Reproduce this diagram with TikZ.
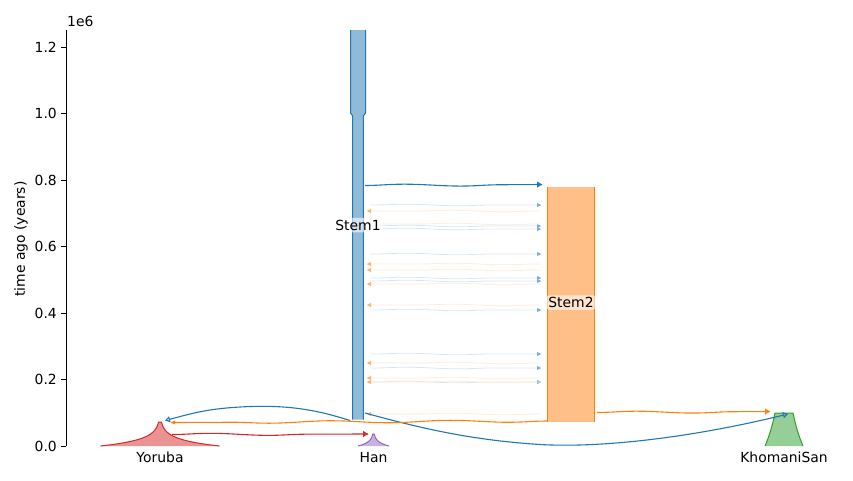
\documentclass[tikz,border=0pt]{standalone}
\usepackage{fontspec}
\setmainfont{DejaVu Sans}
\usetikzlibrary{decorations.pathmorphing,arrows.meta}
\definecolor{Cblue}{HTML}{1F77B4}
\definecolor{Cblfill}{HTML}{8FBBD9}
\definecolor{Corange}{HTML}{FF7F0E}
\definecolor{Corfill}{HTML}{FFBF86}
\definecolor{Cred}{HTML}{D62728}
\definecolor{Credfill}{HTML}{EA9393}
\definecolor{Cpurple}{HTML}{9467BD}
\definecolor{Cpufill}{HTML}{C9B3DE}
\definecolor{Cgreen}{HTML}{2CA02C}
\definecolor{Cgrfill}{HTML}{95CF95}
\begin{document}
\begin{tikzpicture}[x=1pt,y=-1pt,
  lbl/.style={inner sep=0pt, font=\fontsize{13.9}{16}\selectfont},
  ticklbl/.style={lbl, anchor=east},
  poplbl/.style={lbl, anchor=base},
  stemlbl/.style={lbl, inner sep=2pt, fill=white, fill opacity=0.6, text opacity=1, rounded corners=3pt},
  pulse/.style={line width=1.1pt, decorate, decoration={snake, amplitude=1.1pt, segment length=120pt, post length=6pt}},
  pulsetip/.style={line width=1.1pt, -{Triangle[open,length=5pt,width=6pt]}},
  mig/.style={line width=0.8pt, decorate, decoration={snake, amplitude=0.8pt, segment length=105pt, pre length=3pt, post length=4pt}},
  migtip/.style={-{Triangle[length=4pt,width=4pt]}, line width=0.6pt}
]
\useasboundingbox (0,0) rectangle (853,480);

% axis
\coordinate (axtop) at (66,30);
\coordinate (axbot) at (66,446);
\draw[line width=0.8pt] (axtop) -- (axbot);
\foreach \v/\t in {0/0.0, 1/0.2, 2/0.4, 3/0.6, 4/0.8, 5/1.0, 6/1.2} {
  \coordinate (tk\v) at (66,{446-66.5*\v});
  \draw[line width=0.8pt] (tk\v) -- ++(-4.9,0);
  \node[ticklbl] (tl\v) at (57,{446-66.5*\v}) {\t};
}
\node[lbl, anchor=base west] (expo) at (67,26) {1e6};
\node[lbl, rotate=90] (ylab) at (21,239) {time ago (years)};

% Stem1
\fill[Cblfill] (350.5,30) -- (365.5,30) -- (365.5,113) -- (363.3,116) -- (363.3,419.5) -- (352.7,419.5) -- (352.7,116) -- (350.5,113) -- cycle;
\draw[Cblue, line width=1pt] (350.5,30) -- (350.5,113) -- (352.7,116) -- (352.7,419.5);
\draw[Cblue, line width=1pt] (365.5,30) -- (365.5,113) -- (363.3,116) -- (363.3,419.5);

% Stem2
\fill[Corfill] (547,186.6) rectangle (594.5,421.8);
\draw[Corange, line width=1pt] (547,186.6) -- (547,421.8);
\draw[Corange, line width=1pt] (594.5,186.6) -- (594.5,421.8);

% Yoruba
\fill[Credfill] plot[domain=0:24, samples=40] ({160-59.5*exp(-0.153*\x)},{446-\x}) -- plot[domain=24:0, samples=40] ({160+59.5*exp(-0.153*\x)},{446-\x}) -- cycle;
\draw[Cred, line width=1pt] plot[domain=0:24, samples=40] ({160-59.5*exp(-0.153*\x)},{446-\x}) -- plot[domain=24:0, samples=40] ({160+59.5*exp(-0.153*\x)},{446-\x});

% Han
\fill[Cpufill] plot[domain=0:12, samples=30] ({373.5-15.5*exp(-0.247*\x)},{446-\x}) -- plot[domain=12:0, samples=30] ({373.5+15.5*exp(-0.247*\x)},{446-\x}) -- cycle;
\draw[Cpurple, line width=1pt] plot[domain=0:12, samples=30] ({373.5-15.5*exp(-0.247*\x)},{446-\x}) -- plot[domain=12:0, samples=30] ({373.5+15.5*exp(-0.247*\x)},{446-\x});

% KhomaniSan
\fill[Cgrfill] plot[domain=0:33, samples=30] ({784-19*exp(-0.0226*\x)},{446-\x}) -- plot[domain=33:0, samples=30] ({784+19*exp(-0.0226*\x)},{446-\x}) -- cycle;
\draw[Cgreen, line width=1pt] plot[domain=0:33, samples=30] ({784-19*exp(-0.0226*\x)},{446-\x}) -- plot[domain=33:0, samples=30] ({784+19*exp(-0.0226*\x)},{446-\x});

% migrations Stem1 -> Stem2 (blue, faint)
\foreach \y [count=\i] in {205,226,229,254,278,281,310,354,368,382} {
  \coordinate (mbA\i) at (370,\y);
  \coordinate (mbB\i) at (541,\y);
  \draw[mig, Cblue!18] (mbA\i) -- (mbB\i);
  \draw[migtip, Cblue!60] ([xshift=-2pt]mbB\i) -- (mbB\i);
}
% migrations Stem2 -> Stem1 (orange, faint)
\foreach \y [count=\i] in {211,224,264,270,284,305,363,378,382,414} {
  \coordinate (moA\i) at (540,\y);
  \coordinate (moB\i) at (367,\y);
  \draw[mig, Corange!15] (moA\i) -- (moB\i);
  \draw[migtip, Corange!60] ([xshift=2pt]moB\i) -- (moB\i);
}

% pulses
\coordinate (p1a) at (365,185.5);
\coordinate (p1b) at (542,184.5);
\draw[pulse, Cblue] (p1a) -- (p1b);
\draw[pulsetip, Cblue] ([xshift=-3pt]p1b) -- (p1b);

\coordinate (p2a) at (350,420.5);
\coordinate (p2m) at (240,407);
\coordinate (p2b) at (165,420.5);
\draw[pulsetip, Cblue] (p2a) .. controls (320,411) and (290,404) .. (p2m) .. controls (205,409) and (190,414) .. (p2b);

\coordinate (p3a) at (365,413);
\coordinate (p3m) at (540,444.5);
\coordinate (p3b) at (788,414);
\draw[pulsetip, Cblue] (p3a) .. controls (420,428) and (470,440) .. (p3m) .. controls (600,448) and (690,438) .. (p3b);

\coordinate (p4a) at (547,421);
\coordinate (p4b) at (171,422.5);
\draw[pulse, Corange] (p4a) -- (p4b);
\draw[migtip, Corange] ([xshift=2pt]p4b) -- (p4b);

\coordinate (p5a) at (172,434.5);
\coordinate (p5b) at (368,434);
\draw[pulse, Cred] (p5a) -- (p5b);
\draw[pulsetip, Cred] ([xshift=-3pt]p5b) -- (p5b);

\coordinate (p6a) at (597,412.5);
\coordinate (p6b) at (770,411.5);
\draw[pulse, Corange] (p6a) -- (p6b);
\draw[pulsetip, Corange] ([xshift=-3pt]p6b) -- (p6b);

% labels
\node[stemlbl] (s1) at (358,225) {Stem1};
\node[stemlbl] (s2) at (571,302.5) {Stem2};
\node[poplbl] (yor) at (160,462) {Yoruba};
\node[poplbl] (han) at (373.5,462) {Han};
\node[poplbl] (ks) at (784,462) {KhomaniSan};
\end{tikzpicture}
\end{document}
